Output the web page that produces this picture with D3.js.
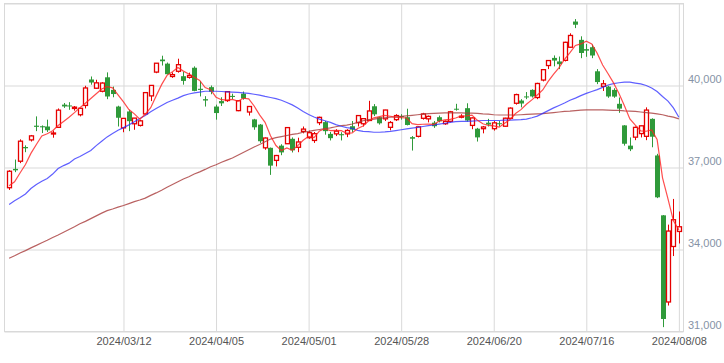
<!DOCTYPE html>
<html lang="en">
<head>
  <meta charset="utf-8">
  <title>Candlestick chart with moving averages</title>
  <script src="https://d3js.org/d3.v7.min.js"></script>
  <style>
    body { margin: 0; background: #fff; }
    text { font-family: "Liberation Sans", Arial, sans-serif; }
  </style>
</head>
<body>
<script>

// trading days shown on the chart
var dates = [
  "2024/02/08","2024/02/09","2024/02/13","2024/02/14","2024/02/15","2024/02/16","2024/02/19","2024/02/20","2024/02/21","2024/02/22",
  "2024/02/26","2024/02/27","2024/02/28","2024/02/29","2024/03/01","2024/03/04","2024/03/05","2024/03/06","2024/03/07","2024/03/08",
  "2024/03/11","2024/03/12","2024/03/13","2024/03/14","2024/03/15","2024/03/18","2024/03/19","2024/03/21","2024/03/22","2024/03/25",
  "2024/03/26","2024/03/27","2024/03/28","2024/03/29","2024/04/01","2024/04/02","2024/04/03","2024/04/04","2024/04/05","2024/04/08",
  "2024/04/09","2024/04/10","2024/04/11","2024/04/12","2024/04/15","2024/04/16","2024/04/17","2024/04/18","2024/04/19","2024/04/22",
  "2024/04/23","2024/04/24","2024/04/25","2024/04/26","2024/04/30","2024/05/01","2024/05/02","2024/05/07","2024/05/08","2024/05/09",
  "2024/05/10","2024/05/13","2024/05/14","2024/05/15","2024/05/16","2024/05/17","2024/05/20","2024/05/21","2024/05/22","2024/05/23",
  "2024/05/24","2024/05/27","2024/05/28","2024/05/29","2024/05/30","2024/05/31","2024/06/03","2024/06/04","2024/06/05","2024/06/06",
  "2024/06/07","2024/06/10","2024/06/11","2024/06/12","2024/06/13","2024/06/14","2024/06/17","2024/06/18","2024/06/19","2024/06/20",
  "2024/06/21","2024/06/24","2024/06/25","2024/06/26","2024/06/27","2024/06/28","2024/07/01","2024/07/02","2024/07/03","2024/07/04",
  "2024/07/05","2024/07/08","2024/07/09","2024/07/10","2024/07/11","2024/07/12","2024/07/16","2024/07/17","2024/07/18","2024/07/19",
  "2024/07/22","2024/07/23","2024/07/24","2024/07/25","2024/07/26","2024/07/29","2024/07/30","2024/07/31","2024/08/01","2024/08/02",
  "2024/08/05","2024/08/06","2024/08/07","2024/08/08"
];

var opens = [
  36260,36950,37230,37750,38010,38530,38510,38500,38230,38470,
  39300,39270,39160,38930,39270,40220,39900,39790,40300,39840,
  39230,38450,39050,38600,38540,38960,39620,40490,40950,40800,
  40330,40520,40340,40300,40650,39880,39500,39940,39230,39430,
  39450,39620,39080,39700,39030,38760,38570,37720,37720,37260,
  37800,37870,38050,37740,38320,38090,37990,38640,38660,38230,
  38230,38220,38230,38510,38640,38600,38720,39240,38840,38780,
  38470,38750,38880,38840,38110,38140,38800,38780,38640,38840,
  38600,38690,39150,38860,39170,38540,38420,38420,38640,38420,
  38620,38510,38800,39350,39450,39600,39840,39560,40200,40730,
  41010,40880,40920,41400,42340,41670,41330,41400,40520,39970,
  39960,39840,39330,38540,37800,38110,38240,38140,38780,37440,
  35250,32080,34110,34660
];

var highs = [
  36900,37290,38030,37810,38190,38870,38540,38750,38350,39160,
  39360,39390,39250,39170,39990,40330,40210,40120,40480,39960,
  39260,38810,39110,38810,38750,39760,40010,40820,41090,40840,
  40480,40980,40500,40470,40700,40160,39610,40000,39300,39570,
  39780,39700,39460,39780,39250,38780,38590,38100,37730,37460,
  37850,38480,38100,38090,38500,38350,38300,38860,38700,38300,
  38400,38290,38400,38700,38920,38800,39440,39320,38850,39110,
  38700,38950,38950,39150,38150,38500,39000,38900,38700,38900,
  38720,39070,39330,38950,39350,38830,38450,38520,38780,38700,
  38700,38820,39200,39700,39500,39760,39860,40100,40600,40930,
  41100,41060,41600,41910,42430,41800,41520,41500,40600,40200,
  39990,39900,39560,38550,38100,38500,38530,39200,38800,37500,
  35260,34910,35850,35390
];

var lows = [
  36180,36830,37160,37560,37950,38330,38260,38300,38090,38450,
  39180,39110,39080,38870,39160,40030,39880,39750,39500,39570,
  38500,38290,38330,38380,38500,38950,39430,40450,40730,40400,
  40280,40470,40030,40250,39790,39600,39230,39680,38750,39250,
  39400,39500,39060,39480,38900,38380,37900,37650,36730,37040,
  37450,37860,37550,37560,38250,38050,37900,38550,38200,37990,
  38150,37990,38110,38300,38500,38500,38700,38880,38570,38700,
  38360,38700,38750,38540,37620,38100,38750,38650,38450,38650,
  38560,38650,39080,38800,38680,38400,37950,38250,38500,38350,
  38500,38500,38780,39300,39200,39500,39560,39500,40150,40600,
  40700,40600,40880,41380,42100,41000,41050,41000,40050,39800,
  39550,39550,39000,37800,37600,38000,38100,38000,37740,35880,
  31160,31950,33760,34220
];

var closes = [
  36863,36897,37963,37703,38157,38487,38470,38363,38262,39098,
  39233,39239,39208,39166,39910,40109,40097,40090,39598,39688,
  38820,38797,38695,38807,38707,39740,40003,40815,40888,40414,
  40398,40762,40168,40369,39803,39838,39451,39773,38992,39347,
  39773,39581,39442,39523,39232,38471,37961,38079,37068,37438,
  37552,38460,37628,37934,38405,38274,38236,38835,38330,38073,
  38330,38179,38356,38385,38900,38787,39069,38946,38617,39103,
  38646,38900,38855,38556,38054,38487,38960,38870,38510,38690,
  38690,39038,39120,38876,38720,38814,38102,38482,38570,38633,
  38596,38804,39173,39667,39341,39583,39600,40074,40580,40913,
  40912,40780,41580,41831,42224,41190,41275,41097,40126,40063,
  39599,39594,39154,37869,37667,38468,38525,39101,38126,35909,
  31458,34675,35089,34831
];

// moving averages as drawn (5, 25 and 75 days)
var ma5 = [
  36331,36479,36800,37109,37517,37841,38156,38236,38348,38536,
  38685,38839,39008,39189,39351,39526,39698,39874,39961,39916,
  39659,39399,39120,38961,38765,38949,39190,39614,40031,40372,
  40504,40655,40526,40422,40300,40188,39926,39847,39571,39480,
  39467,39493,39427,39533,39510,39250,38926,38653,38162,37803,
  37620,37719,37629,37802,37996,38140,38095,38337,38416,38350,
  38361,38349,38254,38265,38430,38521,38699,38817,38864,38904,
  38876,38842,38824,38812,38602,38570,38582,38585,38576,38703,
  38744,38760,38810,38883,38889,38914,38726,38599,38538,38520,
  38477,38617,38755,38975,39116,39314,39473,39653,39836,40150,
  40416,40652,40953,41203,41465,41521,41620,41523,41182,40750,
  40432,40096,39707,39256,38777,38550,38337,38326,38377,38026,
  36624,35854,35051,34720
];

var ma25 = [
  35650,35780,35900,36030,36230,36380,36500,36600,36760,36960,
  37070,37160,37310,37400,37510,37620,37800,37960,38120,38240,
  38360,38460,38560,38670,38790,38900,39040,39160,39270,39380,
  39460,39540,39630,39690,39730,39760,39790,39790,39790,39780,
  39770,39760,39750,39730,39710,39680,39650,39600,39560,39520,
  39460,39380,39290,39180,39050,38940,38850,38770,38710,38650,
  38570,38510,38460,38430,38360,38320,38310,38290,38290,38300,
  38320,38350,38380,38410,38440,38470,38500,38530,38560,38590,
  38620,38650,38680,38690,38690,38700,38710,38720,38720,38720,
  38720,38730,38730,38740,38750,38770,38820,38880,38980,39080,
  39180,39270,39360,39460,39540,39630,39710,39780,39850,39930,
  40020,40070,40100,40120,40120,40090,40060,40000,39910,39780,
  39600,39430,39180,38840
];

var ma75 = [
  33680,33770,33870,33960,34060,34150,34250,34340,34440,34530,
  34630,34730,34830,34940,35030,35130,35230,35330,35420,35480,
  35550,35610,35680,35750,35810,35880,35980,36070,36170,36280,
  36380,36480,36580,36660,36760,36840,36930,37030,37100,37190,
  37270,37350,37450,37550,37650,37750,37840,37940,38040,38090,
  38130,38170,38210,38240,38290,38320,38360,38390,38420,38450,
  38490,38530,38550,38590,38650,38710,38750,38770,38800,38820,
  38840,38850,38870,38890,38910,38930,38950,38970,38980,38990,
  39000,39000,39000,39000,38990,38990,38980,38960,38950,38930,
  38920,38920,38920,38920,38930,38940,38950,38960,38970,38990,
  39010,39030,39050,39060,39080,39100,39110,39110,39110,39110,
  39100,39090,39090,39070,39060,39050,39030,39010,38990,38960,
  38930,38880,38840,38780
];

var xTicks = ["2024/03/12","2024/04/05","2024/05/01","2024/05/28","2024/06/20","2024/07/16","2024/08/08"];
var yTicks = [31000, 34000, 37000, 40000, 43000];

var width = 724, height = 363;
var plotLeft = 4.5, plotRight = 683.5, plotTop = 3.5, plotBottom = 331.5;

var upColor = "#e60000",
    downColor = "#2f9a3a",
    gridColor = "#d9d9d9";

var svg = d3.select("body")
    .append("svg")
    .attr("width", width)
    .attr("height", height);

var x = d3.scalePoint()
    .domain(dates)
    .range([plotLeft, plotRight])
    .padding(0.85);

var y = d3.scaleLinear()
    .domain([31000, 43000])
    .range([plotBottom, plotTop]);

// vertical grid + date labels
var xAxis = svg.append("g")
    .attr("transform", "translate(0," + plotBottom + ")")
    .call(d3.axisBottom(x)
        .tickValues(xTicks)
        .tickSize(-(plotBottom - plotTop))
        .tickPadding(6));

xAxis.select(".domain").remove();
xAxis.selectAll(".tick line").attr("stroke", gridColor);
xAxis.selectAll(".tick text")
    .attr("fill", "#555")
    .attr("font-size", 11)
    .attr("font-family", "Liberation Sans, Arial, sans-serif");

// horizontal grid + price labels on the right
var yAxis = svg.append("g")
    .attr("transform", "translate(" + plotRight + ",0)")
    .call(d3.axisRight(y)
        .tickValues(yTicks)
        .tickSize(-(plotRight - plotLeft))
        .tickPadding(4.5)
        .tickFormat(d3.format(",")));

yAxis.select(".domain").remove();
yAxis.selectAll(".tick line").attr("stroke", gridColor);
yAxis.selectAll(".tick text")
    .attr("dy", "-0.25em")
    .attr("fill", "#8693a6")
    .attr("font-size", 11)
    .attr("font-family", "Liberation Sans, Arial, sans-serif")
    .text(function(d) { return d === 43000 ? "" : d3.format(",")(d); });

// frame
svg.append("rect")
    .attr("x", plotLeft)
    .attr("y", plotTop)
    .attr("width", plotRight - plotLeft)
    .attr("height", plotBottom - plotTop)
    .attr("fill", "none")
    .attr("stroke", gridColor);

// candles
var idx = d3.range(dates.length);

var candle = svg.append("g")
    .selectAll("g")
    .data(idx)
    .enter()
    .append("g");

candle.append("line")
    .attr("x1", function(i) { return Math.round(x(dates[i])) + 0.5; })
    .attr("x2", function(i) { return Math.round(x(dates[i])) + 0.5; })
    .attr("y1", function(i) { return y(highs[i]); })
    .attr("y2", function(i) { return y(lows[i]); })
    .attr("stroke", function(i) { return closes[i] >= opens[i] ? upColor : downColor; })
    .attr("stroke-width", 1);

candle.append("rect")
    .attr("x", function(i) {
        var cx = Math.round(x(dates[i])) + 0.5;
        return closes[i] >= opens[i] ? cx - 2 : cx - 2.5;
    })
    .attr("width", function(i) { return closes[i] >= opens[i] ? 4 : 5; })
    .attr("y", function(i) { return y(Math.max(opens[i], closes[i])); })
    .attr("height", function(i) {
        return Math.max(1, Math.abs(y(opens[i]) - y(closes[i])));
    })
    .attr("fill", function(i) { return closes[i] >= opens[i] ? "#fff" : downColor; })
    .attr("stroke", function(i) { return closes[i] >= opens[i] ? upColor : "none"; })
    .attr("stroke-width", 1.3);

// moving average lines
function maLine(values) {
    return d3.line()
        .x(function(d, i) { return x(dates[i]); })
        .y(function(d) { return y(d); })(values);
}

svg.append("path")
    .attr("d", maLine(ma75))
    .attr("fill", "none")
    .attr("stroke", "#a83a3a")
    .attr("stroke-opacity", 0.8)
    .attr("stroke-width", 1.2);

svg.append("path")
    .attr("d", maLine(ma25))
    .attr("fill", "none")
    .attr("stroke", "#2a2aff")
    .attr("stroke-opacity", 0.75)
    .attr("stroke-width", 1.2);

svg.append("path")
    .attr("d", maLine(ma5))
    .attr("fill", "none")
    .attr("stroke", "#ff2020")
    .attr("stroke-opacity", 0.8)
    .attr("stroke-width", 1.2);

</script>
</body>
</html>
